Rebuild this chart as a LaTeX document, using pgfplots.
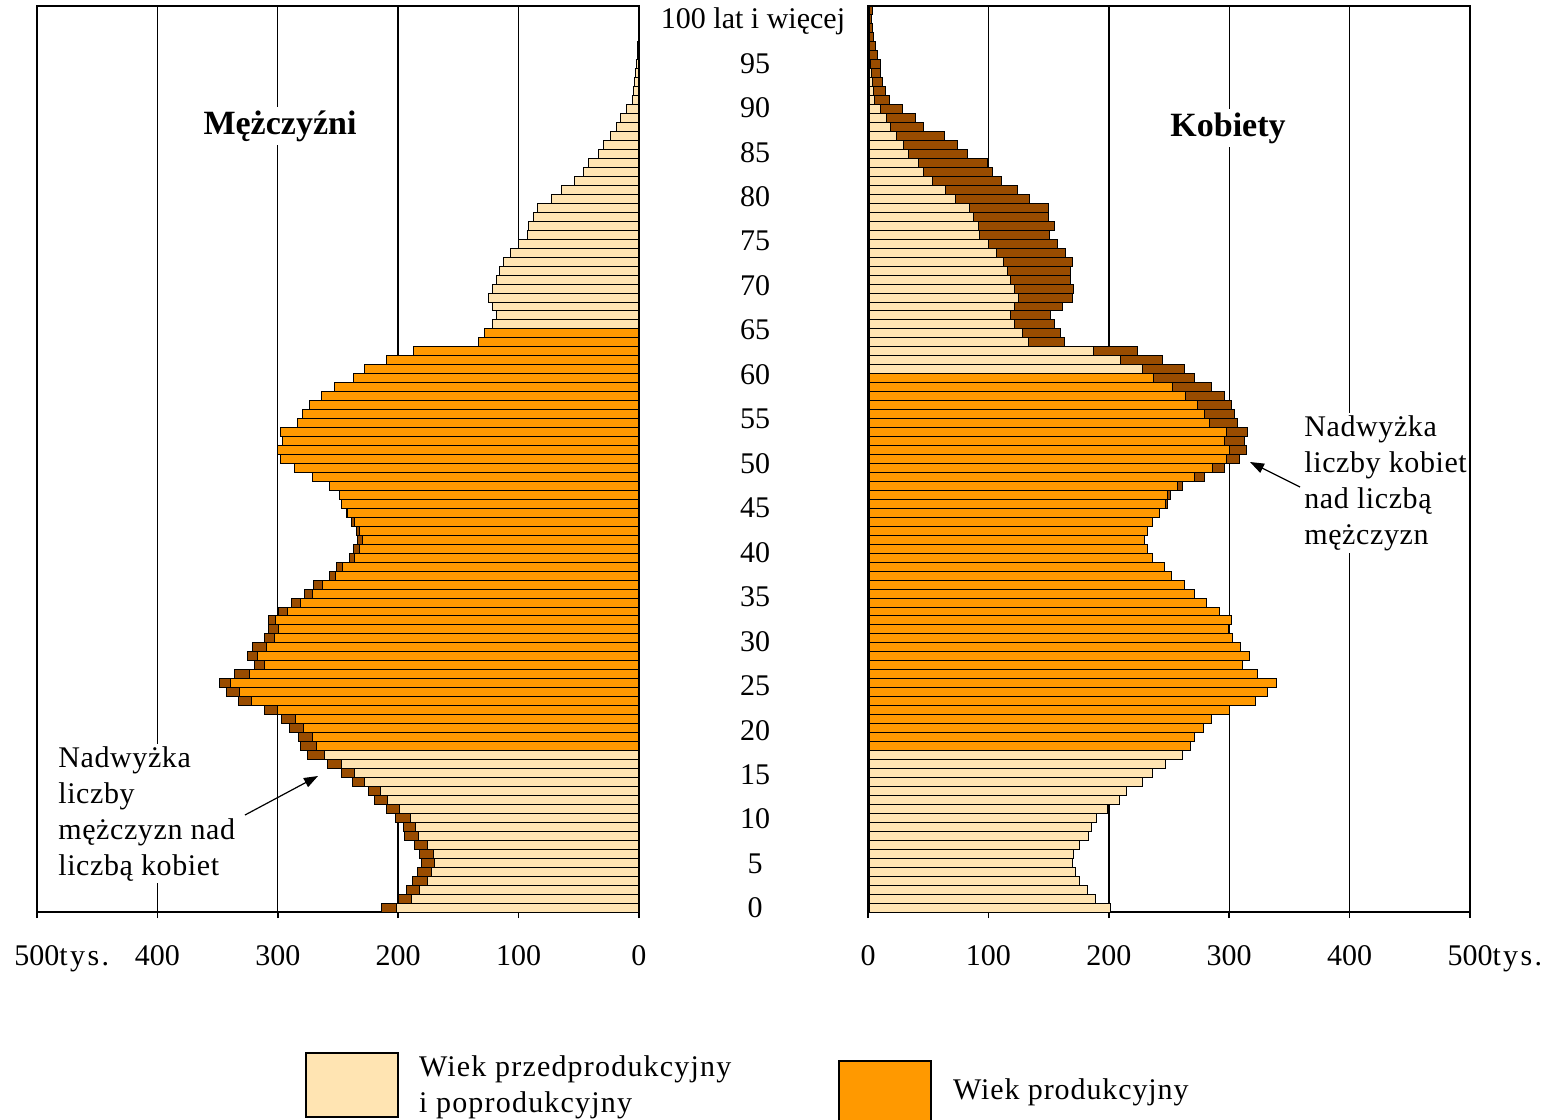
\documentclass[border=0pt]{standalone}
\usepackage{fontspec}
\setmainfont{Liberation Serif}
\usepackage{pgfplots}
\pgfplotsset{compat=1.18}
\usepackage{pgfplotstable}
\usetikzlibrary{arrows.meta}

\definecolor{lightbar}{RGB}{255,228,178}
\definecolor{prodbar}{RGB}{255,153,0}
\definecolor{surplus}{RGB}{153,76,0}

% age, men (M), women (W) in thousands
\pgfplotstableread{
age M W
0 214 201
1 200 189
2 193 182
3 188 176
4 184 172.5
5 181 170
6 182 171
7 186.5 176
8 195 183
9 196 186
10 202 190
11 210 199
12 220 208.5
13 225 215
14 238 228
15 247 236
16 258.5 247.5
17 275 261
18 281 268
19 283 271
20 290 279
21 297 285
22 311 300
23 333 322
24 343 332
25 348.5 339
26 336 323.5
27 319.5 311
28 325 316.5
29 321 309.5
30 311 303
31 308 299
32 308 301.5
33 299 292
34 289 281
35 278 271
36 270 263
37 257 252
38 251.5 246
39 240.5 236.5
40 237.5 232
41 233.5 229.5
42 235 232
43 239 236.5
44 243 242
45 247.5 248.5
46 248.5 251.5
47 257 261.5
48 271 279.5
49 286 296
50 297.5 308.5
51 300 314
52 296 313
53 297.5 315.5
54 283.5 307
55 279.5 304.5
56 274 301.5
57 264 296
58 253 285
59 237.5 271
60 228 263
61 209.5 244.5
62 187.5 224
63 133 163
64 128 160
65 122 154.5
66 118 151.5
67 122 161.5
68 125 169.5
69 122 171
70 118 168.5
71 115.5 168.5
72 112.5 169.5
73 107 164
74 100 157
75 93 150.5
76 91.5 154.5
77 88 149.5
78 84 149.5
79 73 134
80 64.5 124.5
81 53.5 110.5
82 46.5 103.5
83 42 99.5
84 34 83
85 29.5 74.5
86 24 63.5
87 18.5 46.5
88 15.5 39.5
89 10 28.5
90 5.5 17.5
91 4.5 14.5
92 3.5 12
93 2.5 10.5
94 2.2 10
95 1.6 8
96 1.1 6.5
97 0.8 4.5
98 0.6 3.5
99 0.4 3
100 0.8 3.5
}\pop

\pgfplotsset{
  pyr/.style={
    scale only axis, width=301pt, height=453pt,
    xmin=0, xmax=500, ymin=-0.5, ymax=100.5,
    xtick={0,100,200,300,400,500},
    xticklabels={0,100,200,300,400,500\rlap{\addfontfeature{LetterSpace=8}tys.}},
    xtick pos=left, tick align=outside, major tick length=3pt,
    ytick=\empty,
    xmajorgrids, grid style={black, line width=0.7pt},
    axis line style={line width=0.8pt},
    tick style={black, line width=0.8pt},
    xticklabel style={font=\fontsize{15}{18}\selectfont, yshift=-10pt},
  },
  bars/.style={xbar, bar shift=0pt, bar width=1, draw=black, line width=0.5pt},
}

\begin{document}
\begin{tikzpicture}
\useasboundingbox (0,0) rectangle (780pt,-560pt);

% Men
\begin{axis}[pyr, x dir=reverse, at={(169pt,-229.5pt)}, anchor=center]
\addplot[bars, fill=surplus] table[x=M, y=age] {\pop};
\addplot[bars, fill=lightbar, restrict y to domain=-1:17.5] table[x expr={min(\thisrow{M},\thisrow{W})}, y=age] {\pop};
\addplot[bars, fill=prodbar, restrict y to domain=17.5:64.5] table[x expr={min(\thisrow{M},\thisrow{W})}, y=age] {\pop};
\addplot[bars, fill=lightbar, restrict y to domain=64.5:101] table[x expr={min(\thisrow{M},\thisrow{W})}, y=age] {\pop};
\draw[line width=1.4pt] (axis cs:0,-0.5) -- (axis cs:0,100.5);
\end{axis}

% Women
\begin{axis}[pyr, at={(584.5pt,-229.5pt)}, anchor=center]
\addplot[bars, fill=surplus] table[x=W, y=age] {\pop};
\addplot[bars, fill=lightbar, restrict y to domain=-1:17.5] table[x expr={min(\thisrow{M},\thisrow{W})}, y=age] {\pop};
\addplot[bars, fill=prodbar, restrict y to domain=17.5:59.5] table[x expr={min(\thisrow{M},\thisrow{W})}, y=age] {\pop};
\addplot[bars, fill=lightbar, restrict y to domain=59.5:101] table[x expr={min(\thisrow{M},\thisrow{W})}, y=age] {\pop};
\draw[line width=1.8pt] (axis cs:0,-0.5) -- (axis cs:0,100.5);
\end{axis}

% age labels in the middle
\begin{scope}[every node/.style={font=\fontsize{15}{18}\selectfont}]
\node at (376.5pt,-10.5pt) {100 lat i więcej};
\foreach \a in {0,5,...,95} {
  \node at (377.5pt,{-(454pt-4.445pt*\a)}) {\a};
}
\end{scope}

% panel titles
\node[fill=white, inner sep=2pt, font=\fontsize{17}{20}\selectfont\bfseries] at (140pt,-63pt) {Mężczyźni};
\node[fill=white, inner sep=2pt, font=\fontsize{17}{20}\selectfont\bfseries] at (614pt,-64pt) {Kobiety};

% annotations
\node[fill=white, anchor=north west, align=left, inner sep=1pt, font=\fontsize{15}{18}\selectfont\addfontfeature{LetterSpace=2}] at (28pt,-372pt) {Nadwyżka\\liczby\\mężczyzn nad\\liczbą kobiet};
\draw[-{Triangle[length=7pt,width=5pt]}, line width=0.6pt] (122.5pt,-407.5pt) -- (159pt,-388pt);
\node[fill=white, anchor=north west, align=left, inner sep=1pt, font=\fontsize{15}{18}\selectfont\addfontfeature{LetterSpace=2}] at (651pt,-206.5pt) {Nadwyżka\\liczby kobiet\\nad liczbą\\mężczyzn};
\draw[-{Triangle[length=7pt,width=5pt]}, line width=0.6pt] (650pt,-243.5pt) -- (625pt,-231pt);

% legend
\draw[fill=lightbar, line width=0.6pt] (153pt,-526.5pt) rectangle (199pt,-558.5pt);
\node[anchor=west, align=left, font=\fontsize{15}{18}\selectfont\addfontfeature{LetterSpace=4}] at (206pt,-543.5pt) {Wiek przedprodukcyjny\\i poprodukcyjny};
\draw[fill=prodbar, line width=0.6pt] (419.5pt,-530.5pt) rectangle (465.5pt,-561pt);
\node[anchor=west, font=\fontsize{15}{18}\selectfont\addfontfeature{LetterSpace=3}] at (473pt,-546pt) {Wiek produkcyjny};
\end{tikzpicture}
\end{document}
